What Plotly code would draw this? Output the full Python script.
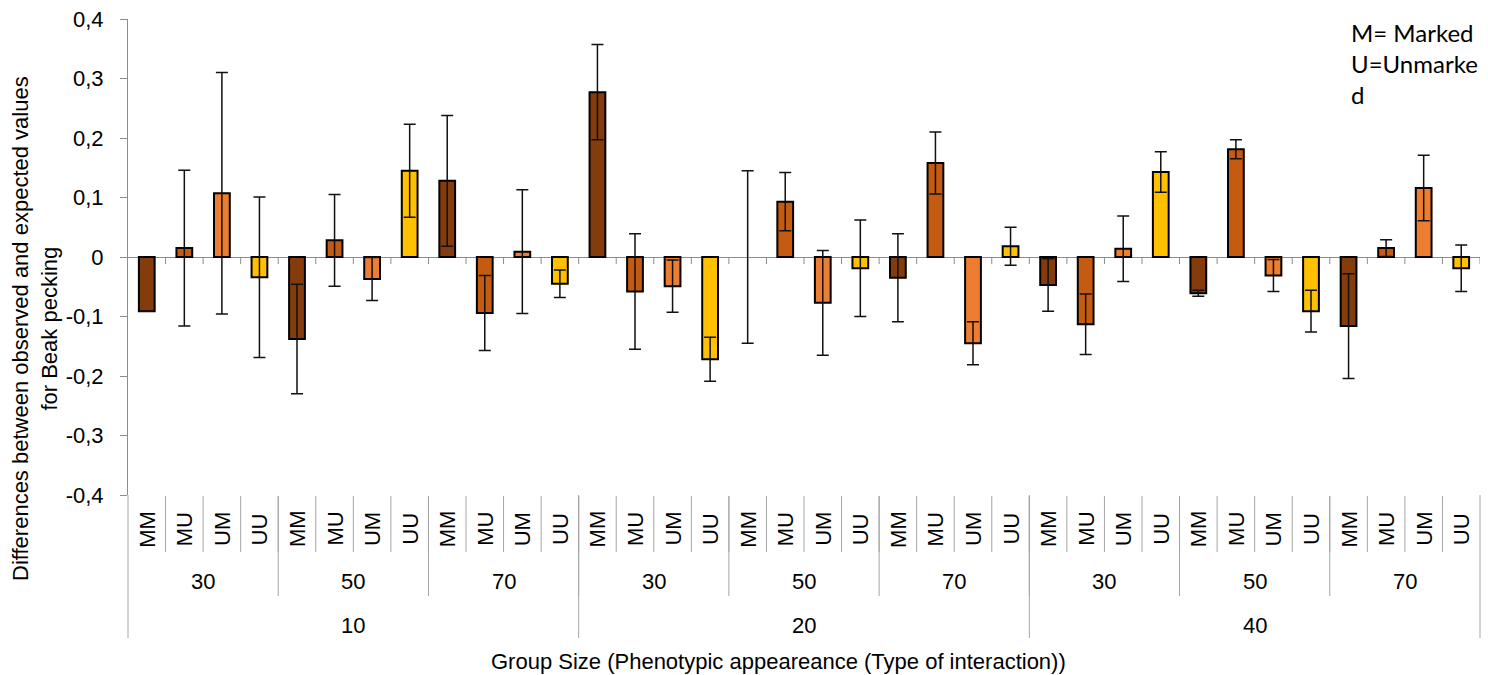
import plotly.graph_objects as go

# Hierarchical categories: group size > phenotypic appearance > type of interaction
group_sizes = ["10", "20", "40"]
phenotypes = ["30", "50", "70"]
interactions = ["MM", "MU", "UM", "UU"]

# Observed - expected beak pecking, ordered phenotype 30/50/70 x MM/MU/UM/UU
values_10 = [-0.091, 0.015, 0.107, -0.034, -0.138, 0.028, -0.037, 0.145, 0.128, -0.094, 0.009, -0.045]
errors_10 = [0.000, 0.131, 0.203, 0.135, 0.092, 0.077, 0.036, 0.078, 0.110, 0.063, 0.104, 0.023]
values_20 = [0.277, -0.058, -0.049, -0.172, 0.000, 0.093, -0.077, -0.019, -0.035, 0.158, -0.145, 0.018]
errors_20 = [0.080, 0.097, 0.044, 0.037, 0.145, 0.049, 0.088, 0.081, 0.074, 0.052, 0.036, 0.032]
values_40 = [-0.047, -0.113, 0.014, 0.143, -0.061, 0.181, -0.031, -0.091, -0.116, 0.015, 0.116, -0.019]
errors_40 = [0.044, 0.051, 0.055, 0.034, 0.005, 0.016, 0.027, 0.035, 0.088, 0.014, 0.055, 0.039]

y_tickvals = [0.4, 0.3, 0.2, 0.1, 0, -0.1, -0.2, -0.3, -0.4]
y_ticktext = ["0,4", "0,3", "0,2", "0,1", "0", "-0,1", "-0,2", "-0,3", "-0,4"]

interaction_colors = {"MM": "#843C0C", "MU": "#C55A11", "UM": "#ED7D31", "UU": "#FFC000"}

values = values_10 + values_20 + values_40
errors = errors_10 + errors_20 + errors_40
n = len(values)
x_pos = list(range(n))
labels = [interactions[i % len(interactions)] for i in range(n)]

FONT = "Liberation Sans, Arial, sans-serif"
GRAY = "#8C8C8C"
SEP = "#A6A6A6"

fig = go.Figure()
fig.add_trace(go.Bar(
    x=x_pos,
    y=values,
    width=0.42,
    marker=dict(
        color=[interaction_colors[l] for l in labels],
        line=dict(color="#000000", width=[0 if v == 0 else 2 for v in values]),
    ),
    error_y=dict(type="data", array=errors, visible=True,
                 color="#111111", thickness=1.5, width=6),
    hoverinfo="skip",
    showlegend=False,
))

# plot area spans pixel rows 19..495 of a 675-px-high figure
top, bottom, H = 19, 495, 675
plot_h = bottom - top


def py(pix):
    """paper y for a pixel row"""
    return (bottom - pix) / plot_h


def px_x(pos):
    """paper x for a data-axis position"""
    return (pos + 0.5) / n


shapes = []
# category ticks hanging below the zero line
for i in range(n):
    shapes.append(dict(type="line", xref="x", yref="y", ysizemode="pixel", yanchor=0,
                       x0=i + 0.5, x1=i + 0.5, y0=0, y1=-7,
                       line=dict(color=GRAY, width=1)))

# separators of the three label rows
for i in range(n - 1):
    shapes.append(dict(type="line", xref="paper", yref="paper",
                       x0=px_x(i + 0.5), x1=px_x(i + 0.5), y0=py(496), y1=py(552),
                       line=dict(color=SEP, width=1)))
per_pheno = len(interactions)
for k in range(1, len(group_sizes) * len(phenotypes)):
    b = k * per_pheno - 0.5
    shapes.append(dict(type="line", xref="paper", yref="paper",
                       x0=px_x(b), x1=px_x(b), y0=py(496), y1=py(596),
                       line=dict(color=SEP, width=1)))
per_group = len(phenotypes) * per_pheno
for g in range(len(group_sizes) + 1):
    b = g * per_group - 0.5
    shapes.append(dict(type="line", xref="paper", yref="paper",
                       x0=px_x(b), x1=px_x(b), y0=py(495), y1=py(638),
                       line=dict(color=SEP, width=1)))

annotations = []
for i, lab in enumerate(labels):
    annotations.append(dict(text=lab, x=i, xref="x", y=py(529), yref="paper",
                            textangle=-90, showarrow=False, xanchor="center", yanchor="middle",
                            font=dict(family=FONT, size=22, color="#000000")))
for k in range(len(group_sizes) * len(phenotypes)):
    annotations.append(dict(text=phenotypes[k % len(phenotypes)], x=k * per_pheno + (per_pheno - 1) / 2,
                            xref="x", y=py(581), yref="paper", showarrow=False,
                            xanchor="center", yanchor="middle",
                            font=dict(family=FONT, size=22, color="#000000")))
for g, gs in enumerate(group_sizes):
    annotations.append(dict(text=gs, x=g * per_group + (per_group - 1) / 2,
                            xref="x", y=py(625), yref="paper", showarrow=False,
                            xanchor="center", yanchor="middle",
                            font=dict(family=FONT, size=22, color="#000000")))

annotations.append(dict(text="Group Size (Phenotypic appeareance (Type of interaction))",
                        x=(778 - 128) / 1352, xref="paper", y=py(661), yref="paper",
                        showarrow=False, xanchor="center", yanchor="middle",
                        font=dict(family=FONT, size=22, color="#000000")))
annotations.append(dict(text="Differences between observed and expected values<br>for Beak pecking",
                        x=(35 - 128) / 1352, xref="paper", y=py(329), yref="paper",
                        textangle=-90, showarrow=False, xanchor="center", yanchor="middle",
                        font=dict(family=FONT, size=22, color="#000000")))
annotations.append(dict(text="M= Marked<br>U=Unmarke<br>d",
                        x=(1349 - 128) / 1352, xref="paper", y=py(16), yref="paper",
                        showarrow=False, xanchor="left", yanchor="top", align="left",
                        font=dict(family="Lato, Open Sans, sans-serif", size=24, color="#000000")))

fig.update_layout(
    width=1488, height=675,
    margin=dict(l=128, r=8, t=top, b=H - bottom, pad=0),
    paper_bgcolor="white", plot_bgcolor="white",
    font=dict(family=FONT, size=22, color="#000000"),
    bargap=0.58,
    shapes=shapes,
    annotations=annotations,
    xaxis=dict(range=[-0.5, n - 0.5], showticklabels=False, showgrid=False,
               zeroline=False, showline=False, ticks=""),
    yaxis=dict(range=[-0.4, 0.4], tickvals=y_tickvals, ticktext=y_ticktext,
               showgrid=False, zeroline=True, zerolinecolor=GRAY, zerolinewidth=1,
               showline=True, linecolor=GRAY, linewidth=1,
               ticks="outside", ticklen=7, tickcolor=GRAY, tickwidth=1,
               ticklabelstandoff=12,
               tickfont=dict(family=FONT, size=22, color="#000000")),
)

fig.write_html("out.html")
